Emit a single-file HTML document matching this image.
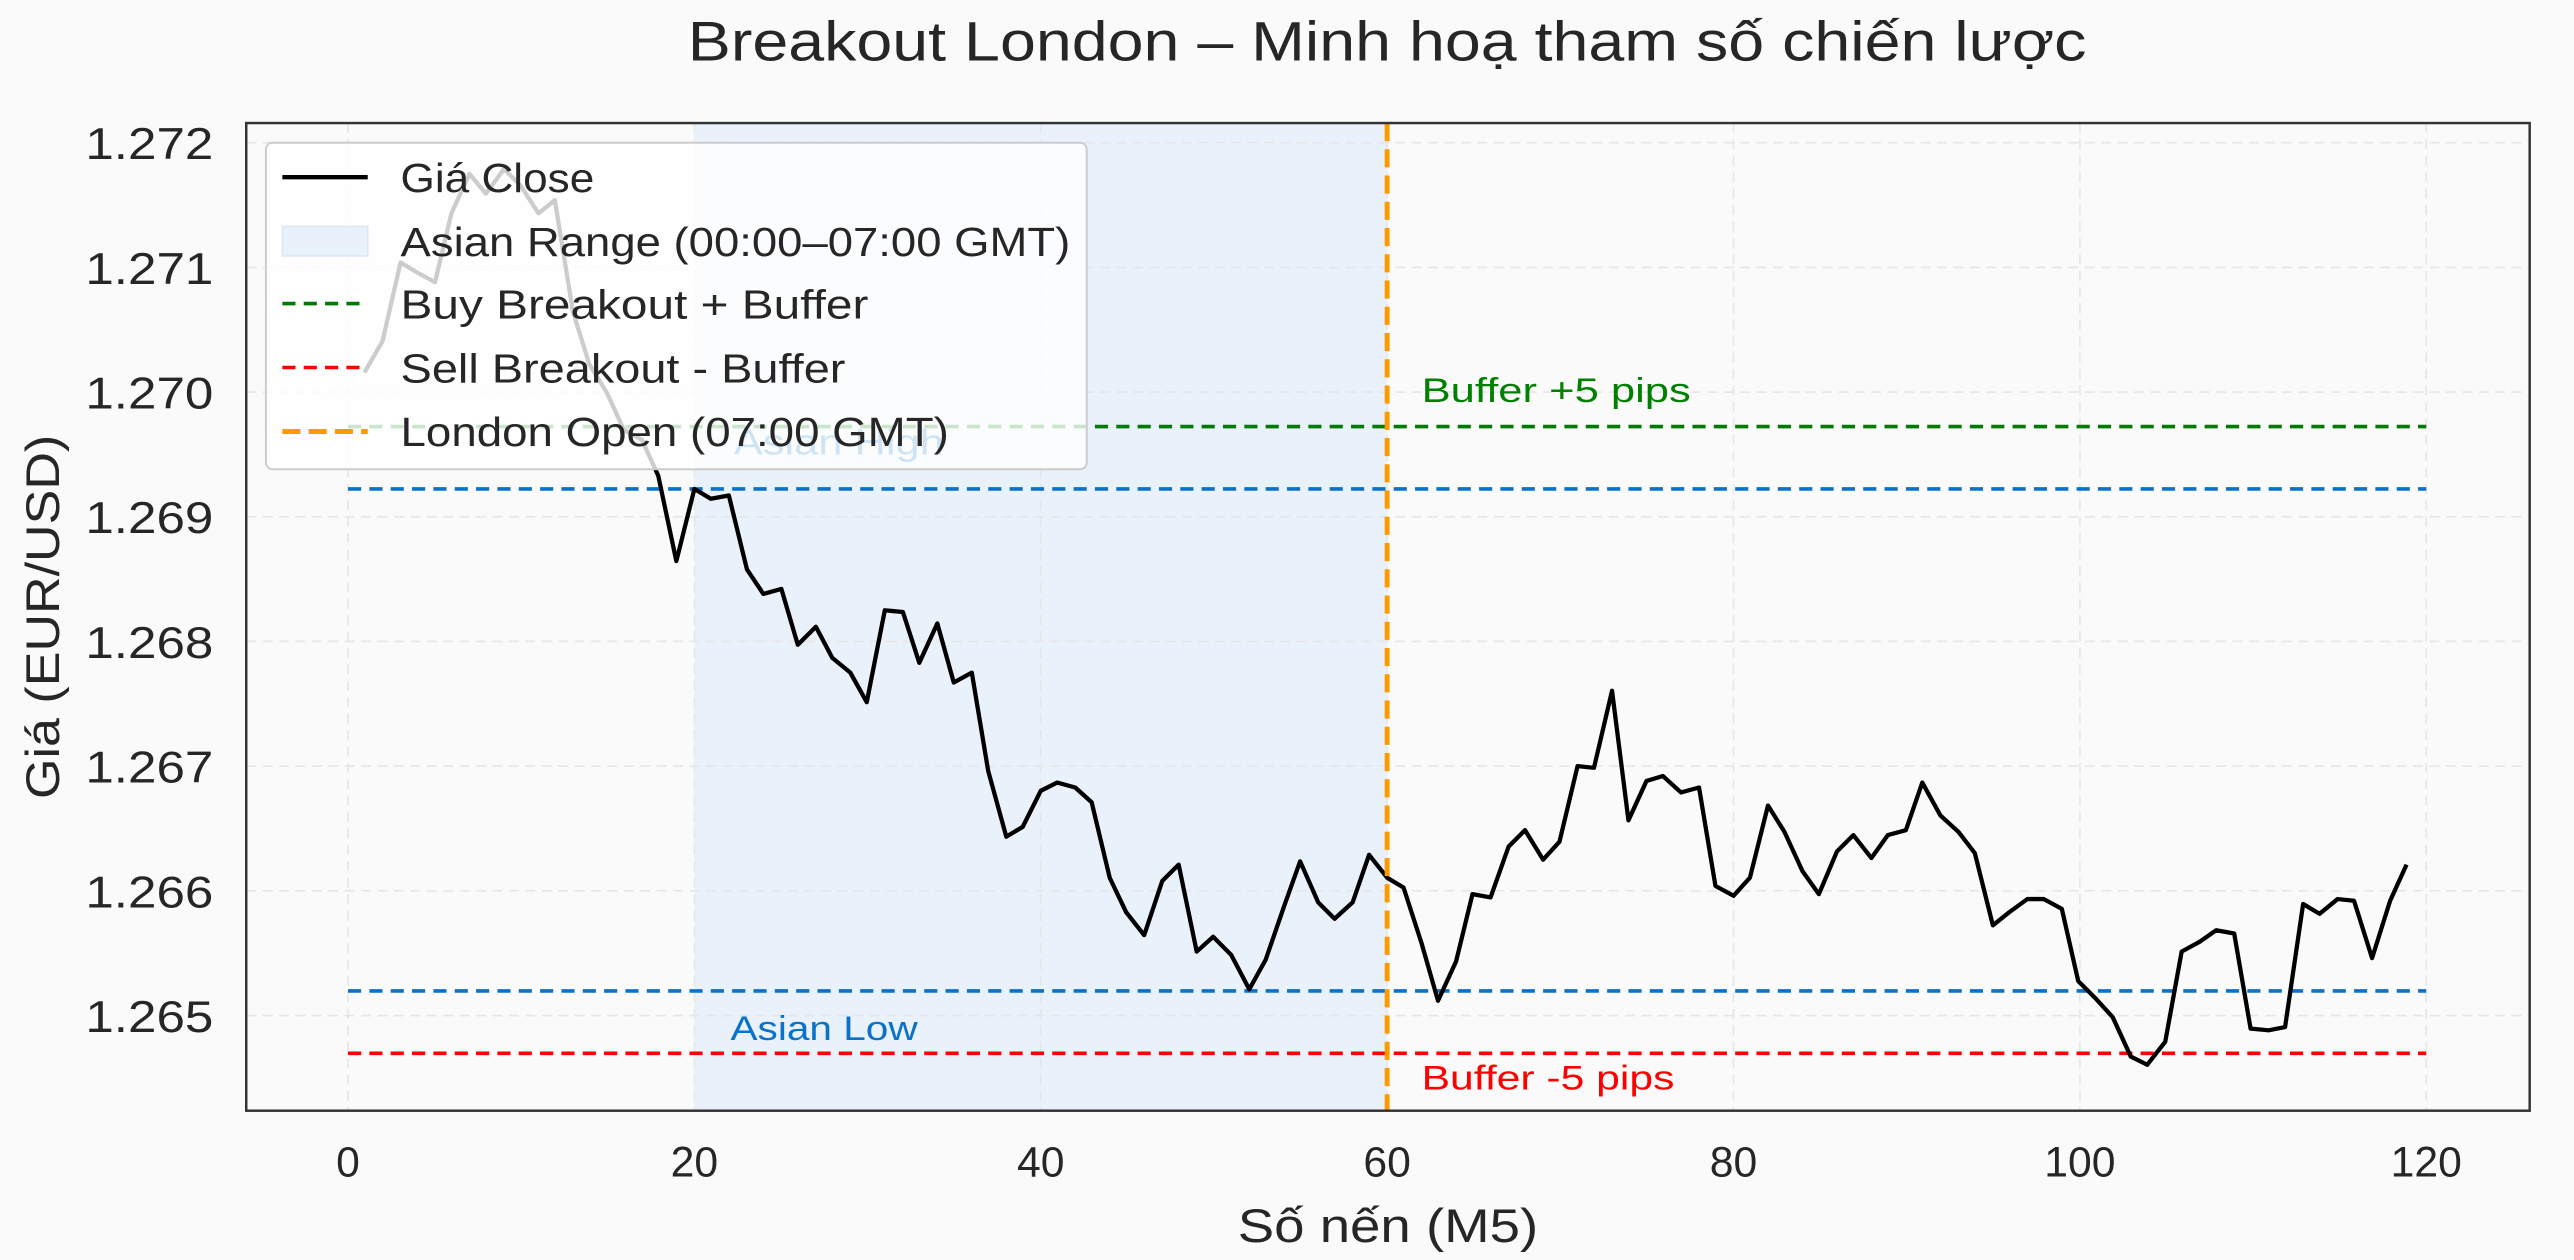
<!DOCTYPE html>
<html><head><meta charset="utf-8"><style>html,body{margin:0;padding:0;background:#fafafa}svg{display:block}</style></head>
<body>
<svg width="2574" height="1260" viewBox="0 0 1568 768" preserveAspectRatio="none" xmlns="http://www.w3.org/2000/svg" font-family="'Liberation Sans','DejaVu Sans',sans-serif">
<rect width="1568" height="768" fill="#fafafa"/>
<text x="419" y="37" font-size="34" fill="#262626" textLength="852" lengthAdjust="spacingAndGlyphs">Breakout London – Minh hoạ tham số chiến lược</text>
<rect x="423" y="75" width="422" height="602" fill="#e9f1fb"/>
<g stroke="#e6e6e6" stroke-width="1" stroke-dasharray="6,4">
<line x1="212" y1="75" x2="212" y2="677"/><line x1="423" y1="75" x2="423" y2="677"/><line x1="634" y1="75" x2="634" y2="677"/><line x1="845" y1="75" x2="845" y2="677"/><line x1="1056" y1="75" x2="1056" y2="677"/><line x1="1267" y1="75" x2="1267" y2="677"/><line x1="1478" y1="75" x2="1478" y2="677"/>
<line x1="150" y1="87" x2="1541" y2="87"/><line x1="150" y1="163" x2="1541" y2="163"/><line x1="150" y1="239" x2="1541" y2="239"/><line x1="150" y1="315" x2="1541" y2="315"/><line x1="150" y1="391" x2="1541" y2="391"/><line x1="150" y1="467" x2="1541" y2="467"/><line x1="150" y1="543" x2="1541" y2="543"/><line x1="150" y1="619" x2="1541" y2="619"/>
</g>
<g stroke-width="2.2" stroke-dasharray="8,5" fill="none">
<line x1="212" y1="260" x2="1478" y2="260" stroke="#007a00"/>
<line x1="212" y1="298" x2="1478" y2="298" stroke="#0a72c8"/>
<line x1="212" y1="604" x2="1478" y2="604" stroke="#0a72c8"/>
<line x1="212" y1="642" x2="1478" y2="642" stroke="#f00"/>
</g>
<text x="447" y="277" font-size="22" fill="#0a72c8" textLength="128" lengthAdjust="spacingAndGlyphs">Asian High</text>
<text x="445" y="634" font-size="21" fill="#0a72c8" textLength="114" lengthAdjust="spacingAndGlyphs">Asian Low</text>
<text x="866" y="245" font-size="21" fill="#008000" textLength="164" lengthAdjust="spacingAndGlyphs">Buffer +5 pips</text>
<text x="866" y="664" font-size="21" fill="#f00" textLength="154" lengthAdjust="spacingAndGlyphs">Buffer -5 pips</text>
<polyline fill="none" stroke="#000" stroke-width="2.6" stroke-linejoin="round" points="222,227 233,208 244,160 254,166 265,172 275,130 286,106 296,118 307,103 317,113 328,130 338,122 349,190 359,222 370,240 380,262 391,268 401,290 412,342 423,298 433,304 444,302 455,347 465,362 476,359 486,393 497,382 507,401 518,410 528,428 539,372 550,373 560,404 571,380 581,416 592,410 602,470 613,510 623,504 634,482 644,477 655,480 665,489 676,535 686,556 697,570 708,537 718,527 729,580 739,571 750,582 761,603 771,585 782,553 792,525 803,550 813,560 824,550 834,521 845,535 855,541 866,575 876,610 887,586 897,545 908,547 919,516 929,506 940,524 950,513 961,467 971,468 982,421 992,500 1003,476 1013,473 1024,483 1035,480 1045,540 1056,546 1066,535 1077,491 1087,507 1098,531 1108,545 1119,519 1129,509 1140,523 1150,509 1161,506 1171,477 1182,497 1193,507 1203,520 1214,564 1224,556 1235,548 1245,548 1256,554 1266,598 1277,609 1287,620 1298,644 1308,649 1319,635 1329,580 1340,574 1350,567 1361,569 1371,627 1382,628 1392,626 1403,551 1413,557 1424,548 1434,549 1445,584 1456,549 1466,527"/>
<line x1="845" y1="75" x2="845" y2="677" stroke="#ff9900" stroke-width="3" stroke-dasharray="11,5"/>
<rect x="162" y="87" width="500" height="199" rx="4" fill="#fff" fill-opacity="0.8" stroke="#cccccc" stroke-width="1.2"/>
<g font-size="25" fill="#262626">
<line x1="172" y1="108" x2="224" y2="108" stroke="#000" stroke-width="2.6"/><text x="244" y="117" textLength="118" lengthAdjust="spacingAndGlyphs">Giá Close</text>
<rect x="172" y="138" width="52" height="18" fill="#e9f1fb" stroke="#dde8f5"/><text x="244" y="156" textLength="408" lengthAdjust="spacingAndGlyphs">Asian Range (00:00–07:00 GMT)</text>
<line x1="172" y1="185" x2="224" y2="185" stroke="#007a00" stroke-width="2.2" stroke-dasharray="8,5"/><text x="244" y="194" textLength="285" lengthAdjust="spacingAndGlyphs">Buy Breakout + Buffer</text>
<line x1="172" y1="224" x2="224" y2="224" stroke="#f00" stroke-width="2.2" stroke-dasharray="8,5"/><text x="244" y="233" textLength="271" lengthAdjust="spacingAndGlyphs">Sell Breakout - Buffer</text>
<line x1="172" y1="263" x2="224" y2="263" stroke="#ff9900" stroke-width="3" stroke-dasharray="11,5"/><text x="244" y="272" textLength="334" lengthAdjust="spacingAndGlyphs">London Open (07:00 GMT)</text>
</g>
<rect x="150" y="75" width="1391" height="602" fill="none" stroke="#333" stroke-width="1.5"/>
<g font-size="26" fill="#262626" text-anchor="middle">
<text x="212" y="717">0</text><text x="423" y="717">20</text><text x="634" y="717">40</text><text x="845" y="717">60</text><text x="1056" y="717">80</text><text x="1267" y="717">100</text><text x="1478" y="717">120</text>
</g>
<g font-size="27" fill="#262626">
<text x="52" y="97" textLength="78" lengthAdjust="spacingAndGlyphs">1.272</text><text x="52" y="173" textLength="78" lengthAdjust="spacingAndGlyphs">1.271</text><text x="52" y="249" textLength="78" lengthAdjust="spacingAndGlyphs">1.270</text><text x="52" y="325" textLength="78" lengthAdjust="spacingAndGlyphs">1.269</text><text x="52" y="401" textLength="78" lengthAdjust="spacingAndGlyphs">1.268</text><text x="52" y="477" textLength="78" lengthAdjust="spacingAndGlyphs">1.267</text><text x="52" y="553" textLength="78" lengthAdjust="spacingAndGlyphs">1.266</text><text x="52" y="629" textLength="78" lengthAdjust="spacingAndGlyphs">1.265</text>
</g>
<text x="754" y="757" font-size="29" fill="#262626" textLength="183" lengthAdjust="spacingAndGlyphs">Số nến (M5)</text>
<text transform="translate(36,487) rotate(-90)" font-size="29" fill="#262626" textLength="222" lengthAdjust="spacingAndGlyphs">Giá (EUR/USD)</text>
</svg>
</body></html>
